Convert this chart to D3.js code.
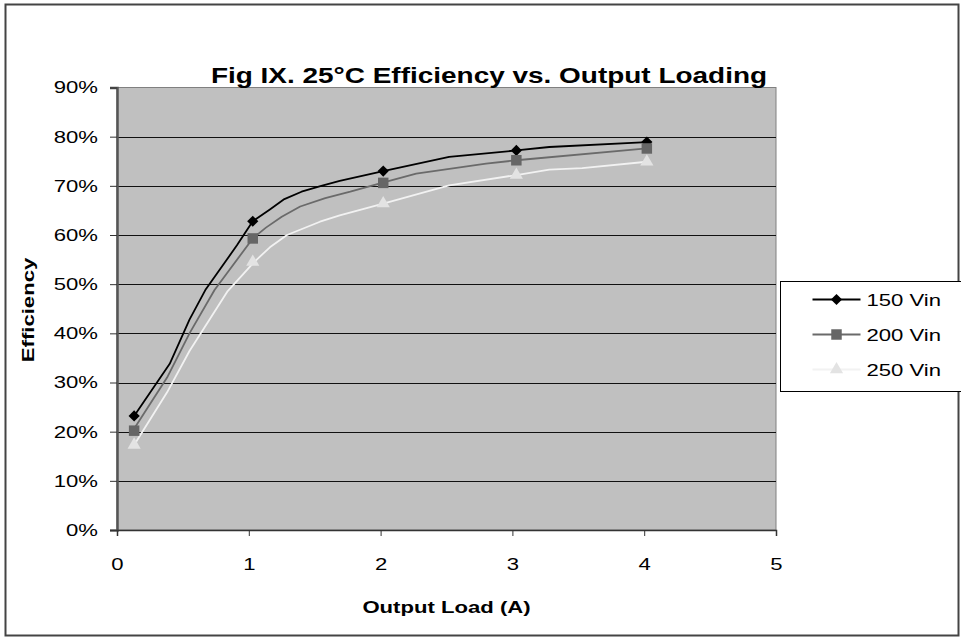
<!DOCTYPE html>
<html>
<head>
<meta charset="utf-8">
<script src="https://cdn.jsdelivr.net/npm/d3@7"></script>
<style>
  body { margin: 0; background: #fff; }
  svg { display: block; font-family: "Liberation Sans", Arial, sans-serif; }
</style>
</head>
<body>
<svg id="chart" width="961" height="640"></svg>
<script>
// traced line vertices (load in A, efficiency in %)
const load150 = [0.13, 0.40, 0.55, 0.67, 0.91, 1.03, 1.16, 1.27, 1.40, 1.55, 1.69, 2.02, 2.52, 3.03, 3.28, 4.02]
const eff150  = [23.2, 33.8, 42.8, 48.8, 57.9, 62.8, 65.2, 67.3, 68.8, 70.0, 71.0, 73.0, 75.9, 77.2, 77.9, 78.9]

const load200 = [0.12, 0.38, 0.55, 0.74, 1.03, 1.13, 1.25, 1.39, 1.58, 1.77, 2.01, 2.27, 2.80, 3.03, 4.02]
const eff200  = [20.2, 31.0, 40.0, 48.8, 59.3, 61.5, 63.7, 65.8, 67.5, 68.8, 70.6, 72.5, 74.5, 75.2, 77.6]

const load250 = [0.13, 0.38, 0.55, 0.84, 1.04, 1.16, 1.29, 1.54, 1.69, 2.02, 2.52, 3.03, 3.28, 3.53, 4.02]
const eff250  = [17.3, 28.0, 36.4, 48.6, 54.5, 57.5, 60.0, 62.7, 64.0, 66.4, 70.1, 72.2, 73.3, 73.6, 74.9]

// points that carry a marker
const markLoad = [0.13, 1.03, 2.02, 3.03, 4.02]
const mark150 = [23.2, 62.8, 73.0, 77.2, 78.9]
const mark200 = [20.2, 59.3, 70.6, 75.2, 77.6]
const mark250 = [17.3, 54.5, 66.4, 72.2, 74.9]

const seriesNames = ['150 Vin', '200 Vin', '250 Vin']
const xTicks = [0, 1, 2, 3, 4, 5]
const yTicks = [0, 10, 20, 30, 40, 50, 60, 70, 80, 90]

const titleText = 'Fig IX. 25°C Efficiency vs. Output Loading'
const xTitle = 'Output Load (A)'
const yTitle = 'Efficiency'

const STRETCH = 1.3

const svg = d3.select('#chart')

const plot = { left: 117, right: 776, top: 87.5, bottom: 530 }

const x = d3.scaleLinear().domain([0, 5]).range([plot.left, plot.right])
const y = d3.scaleLinear().domain([0, 90]).range([plot.bottom, plot.top])

const series = [
  { name: seriesNames[0], load: load150, eff: eff150, mark: mark150,
    stroke: '#000', fill: '#000', symbol: d3.symbolDiamond2, size: 80 },
  { name: seriesNames[1], load: load200, eff: eff200, mark: mark200,
    stroke: '#6a6a6a', fill: '#666', symbol: d3.symbolSquare, size: 110 },
  { name: seriesNames[2], load: load250, eff: eff250, mark: mark250,
    stroke: '#f2f2f2', fill: '#e3e3e3', symbol: d3.symbolTriangle, size: 75 }
]

// outer frame
svg.append('rect')
  .attr('x', 5.5).attr('y', 4.5)
  .attr('width', 953).attr('height', 631)
  .attr('fill', '#fff')
  .attr('stroke', '#444')
  .attr('stroke-width', 2)

// plot area
svg.append('rect')
  .attr('x', plot.left).attr('y', plot.top)
  .attr('width', plot.right - plot.left).attr('height', plot.bottom - plot.top)
  .attr('fill', '#c0c0c0')
  .attr('stroke', '#808080')
  .attr('stroke-width', 1)

// gridlines
svg.append('g')
  .selectAll('line')
  .data(yTicks.filter(t => t > 0 && t < 90))
  .enter()
  .append('line')
    .attr('x1', plot.left).attr('x2', plot.right)
    .attr('y1', d => Math.round(y(d)) + 0.5).attr('y2', d => Math.round(y(d)) + 0.5)
    .attr('stroke', '#111')
    .attr('stroke-width', 1)

// axes
const yAxis = d3.axisLeft(y)
  .tickValues(yTicks)
  .tickFormat(d => d + '%')
  .tickSize(7)
  .tickPadding(12)

const xAxis = d3.axisBottom(x)
  .tickValues(xTicks)
  .tickFormat(d3.format('d'))
  .tickSize(6)
  .tickPadding(22)

svg.append('g')
  .attr('transform', 'translate(' + plot.left + ',0)')
  .call(yAxis)
  .call(g => g.select('.domain').attr('stroke', '#555').attr('stroke-width', 2.5))
  .call(g => g.selectAll('.tick line').attr('stroke', '#333'))
  .call(g => g.selectAll('text').attr('font-size', 17).attr('fill', '#000')
    .attr('font-family', '"Liberation Sans", Arial, sans-serif'))

svg.append('g')
  .attr('transform', 'translate(0,' + plot.bottom + ')')
  .call(xAxis)
  .call(g => g.select('.domain').attr('stroke', '#333').attr('stroke-width', 1.5))
  .call(g => g.selectAll('.tick line').attr('stroke', '#333'))
  .call(g => g.selectAll('text').attr('font-size', 17).attr('fill', '#000')
    .attr('font-family', '"Liberation Sans", Arial, sans-serif'))

// lines
const line = d3.line()
  .x(d => x(d[0]))
  .y(d => y(d[1]))

series.forEach(s => {
  const pts = s.load.map((l, i) => [l, s.eff[i]])
  svg.append('path')
    .attr('d', line(pts))
    .attr('fill', 'none')
    .attr('stroke', s.stroke)
    .attr('stroke-width', 1.8)
    .attr('stroke-linejoin', 'round')
})

series.forEach(s => {
  const sym = d3.symbol().type(s.symbol).size(s.size)
  svg.append('g')
    .selectAll('path')
    .data(markLoad.map((l, i) => [l, s.mark[i]]))
    .enter()
    .append('path')
      .attr('d', sym)
      .attr('transform', d => 'translate(' + x(d[0]) + ',' + y(d[1]) + ')')
      .attr('fill', s.fill)
})

// titles
svg.append('text')
  .attr('class', 'stretch')
  .attr('x', 489).attr('y', 83)
  .attr('text-anchor', 'middle')
  .attr('font-size', 22)
  .attr('font-weight', 'bold')
  .attr('data-stretch', 1.27)
  .text(titleText)

svg.append('text')
  .attr('class', 'stretch')
  .attr('x', (plot.left + plot.right) / 2).attr('y', 613)
  .attr('text-anchor', 'middle')
  .attr('font-size', 17)
  .attr('font-weight', 'bold')
  .text(xTitle)

svg.append('text')
  .attr('class', 'stretch')
  .attr('transform', 'translate(34,310) rotate(-90)')
  .attr('text-anchor', 'middle')
  .attr('font-size', 17)
  .attr('font-weight', 'bold')
  .text(yTitle)

// legend
const legend = svg.append('g')
  .attr('transform', 'translate(780.5,281.5)')

legend.append('rect')
  .attr('width', 182).attr('height', 110)
  .attr('fill', '#fff')
  .attr('stroke', '#000')
  .attr('stroke-width', 1)

series.forEach((s, i) => {
  const ly = 18 + i * 35
  legend.append('line')
    .attr('x1', 32).attr('x2', 80)
    .attr('y1', ly).attr('y2', ly)
    .attr('stroke', s.stroke)
    .attr('stroke-width', 1.8)
  legend.append('path')
    .attr('d', d3.symbol().type(s.symbol).size(s.size))
    .attr('transform', 'translate(56,' + ly + ')')
    .attr('fill', s.fill)
  legend.append('text')
    .attr('class', 'stretch')
    .attr('x', 86).attr('y', ly + 6)
    .attr('font-size', 17)
    .text(s.name)
})

// the reference text is wider than Arial: widen glyphs along the baseline
svg.selectAll('.tick text').classed('stretch', true)
svg.selectAll('text.stretch').each(function () {
  const w = this.getComputedTextLength()
  const k = +this.getAttribute('data-stretch') || STRETCH
  d3.select(this)
    .attr('textLength', w * k)
    .attr('lengthAdjust', 'spacingAndGlyphs')
})
</script>
</body>
</html>
